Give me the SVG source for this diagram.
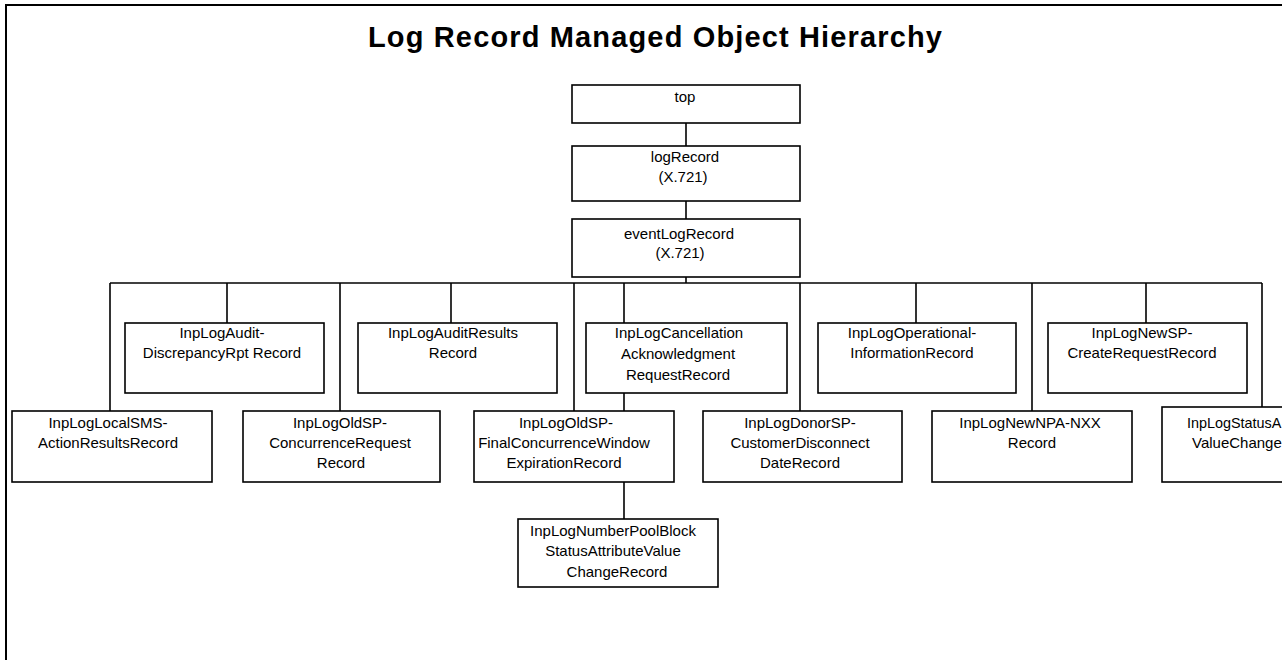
<svg xmlns="http://www.w3.org/2000/svg" width="1282" height="660" viewBox="0 0 1282 660">
<style>
.box{fill:#fff;stroke:#000;stroke-width:1.6}
.t{font-family:"Liberation Sans",Arial,sans-serif;font-size:15px;text-anchor:middle;fill:#000}
.title{font-family:"Liberation Sans",Arial,sans-serif;font-size:29px;font-weight:bold;fill:#000}
.conn line{stroke:#000;stroke-width:1.6}
</style>
<rect width="1282" height="660" fill="#fff"/>
<path d="M6,660 V5 H1282" fill="none" stroke="#000" stroke-width="2"/>
<text class="title" x="368" y="47" textLength="574" lengthAdjust="spacing">Log Record Managed Object Hierarchy</text>
<g id="connectors" class="conn">
<line x1="686" y1="123" x2="686" y2="146"/>
<line x1="686" y1="201" x2="686" y2="219"/>
<line x1="686" y1="277" x2="686" y2="283"/>
<line x1="110" y1="283" x2="1262" y2="283"/>
<line x1="110" y1="283" x2="110" y2="411"/>
<line x1="227" y1="283" x2="227" y2="323"/>
<line x1="340" y1="283" x2="340" y2="411"/>
<line x1="451" y1="283" x2="451" y2="323"/>
<line x1="574" y1="283" x2="574" y2="411"/>
<line x1="624" y1="283" x2="624" y2="323"/>
<line x1="624" y1="393" x2="624" y2="411"/>
<line x1="624" y1="482" x2="624" y2="519"/>
<line x1="800" y1="283" x2="800" y2="411"/>
<line x1="916" y1="283" x2="916" y2="323"/>
<line x1="1032" y1="283" x2="1032" y2="411"/>
<line x1="1146" y1="283" x2="1146" y2="323"/>
<line x1="1262" y1="283" x2="1262" y2="407"/>
</g>
<g id="top"><rect class="box" x="572" y="85" width="228" height="38"/><text class="t" x="685" y="102">top</text></g>
<g id="logRecord"><rect class="box" x="572" y="146" width="228" height="55"/><text class="t" x="685" y="162">logRecord</text><text class="t" x="683" y="182">(X.721)</text></g>
<g id="eventLogRecord"><rect class="box" x="572" y="219" width="228" height="58"/><text class="t" x="679" y="239">eventLogRecord</text><text class="t" x="680" y="258">(X.721)</text></g>
<g id="auditDiscrepancy"><rect class="box" x="125" y="323" width="199" height="70"/><text class="t" x="222" y="338">InpLogAudit-</text><text class="t" x="222" y="358">DiscrepancyRpt Record</text></g>
<g id="auditResults"><rect class="box" x="358" y="323" width="199" height="70"/><text class="t" x="453" y="338">InpLogAuditResults</text><text class="t" x="453" y="358">Record</text></g>
<g id="cancellation"><rect class="box" x="586" y="323" width="201" height="70"/><text class="t" x="679" y="338">InpLogCancellation</text><text class="t" x="678" y="359">Acknowledgment</text><text class="t" x="678" y="380">RequestRecord</text></g>
<g id="operational"><rect class="box" x="818" y="323" width="198" height="70"/><text class="t" x="912" y="338">InpLogOperational-</text><text class="t" x="912" y="358">InformationRecord</text></g>
<g id="newSP"><rect class="box" x="1048" y="323" width="199" height="70"/><text class="t" x="1142" y="338">InpLogNewSP-</text><text class="t" x="1142" y="358">CreateRequestRecord</text></g>
<g id="localSMS"><rect class="box" x="12" y="411" width="200" height="71"/><text class="t" x="108" y="428">InpLogLocalSMS-</text><text class="t" x="108" y="448">ActionResultsRecord</text></g>
<g id="oldSPConcurrence"><rect class="box" x="243" y="411" width="197" height="71"/><text class="t" x="340" y="428">InpLogOldSP-</text><text class="t" x="340" y="448">ConcurrenceRequest</text><text class="t" x="341" y="468">Record</text></g>
<g id="oldSPFinal"><rect class="box" x="474" y="411" width="200" height="71"/><text class="t" x="566" y="428">InpLogOldSP-</text><text class="t" x="564" y="448">FinalConcurrenceWindow</text><text class="t" x="564" y="468">ExpirationRecord</text></g>
<g id="donorSP"><rect class="box" x="703" y="411" width="199" height="71"/><text class="t" x="800" y="428">InpLogDonorSP-</text><text class="t" x="800" y="448">CustomerDisconnect</text><text class="t" x="800" y="468">DateRecord</text></g>
<g id="newNPA"><rect class="box" x="932" y="411" width="200" height="71"/><text class="t" x="1030" y="428">InpLogNewNPA-NXX</text><text class="t" x="1032" y="448">Record</text></g>
<g id="statusAttr"><rect class="box" x="1162" y="407" width="140" height="75"/><text class="t" x="1187" y="428" style="text-anchor:start;font-size:14.4px">InpLogStatusA</text><text class="t" x="1192" y="448" style="text-anchor:start">ValueChange</text></g>
<g id="numberPool"><rect class="box" x="518" y="519" width="200" height="68"/><text class="t" x="613" y="536">InpLogNumberPoolBlock</text><text class="t" x="613" y="556">StatusAttributeValue</text><text class="t" x="617" y="577">ChangeRecord</text></g>
</svg>
